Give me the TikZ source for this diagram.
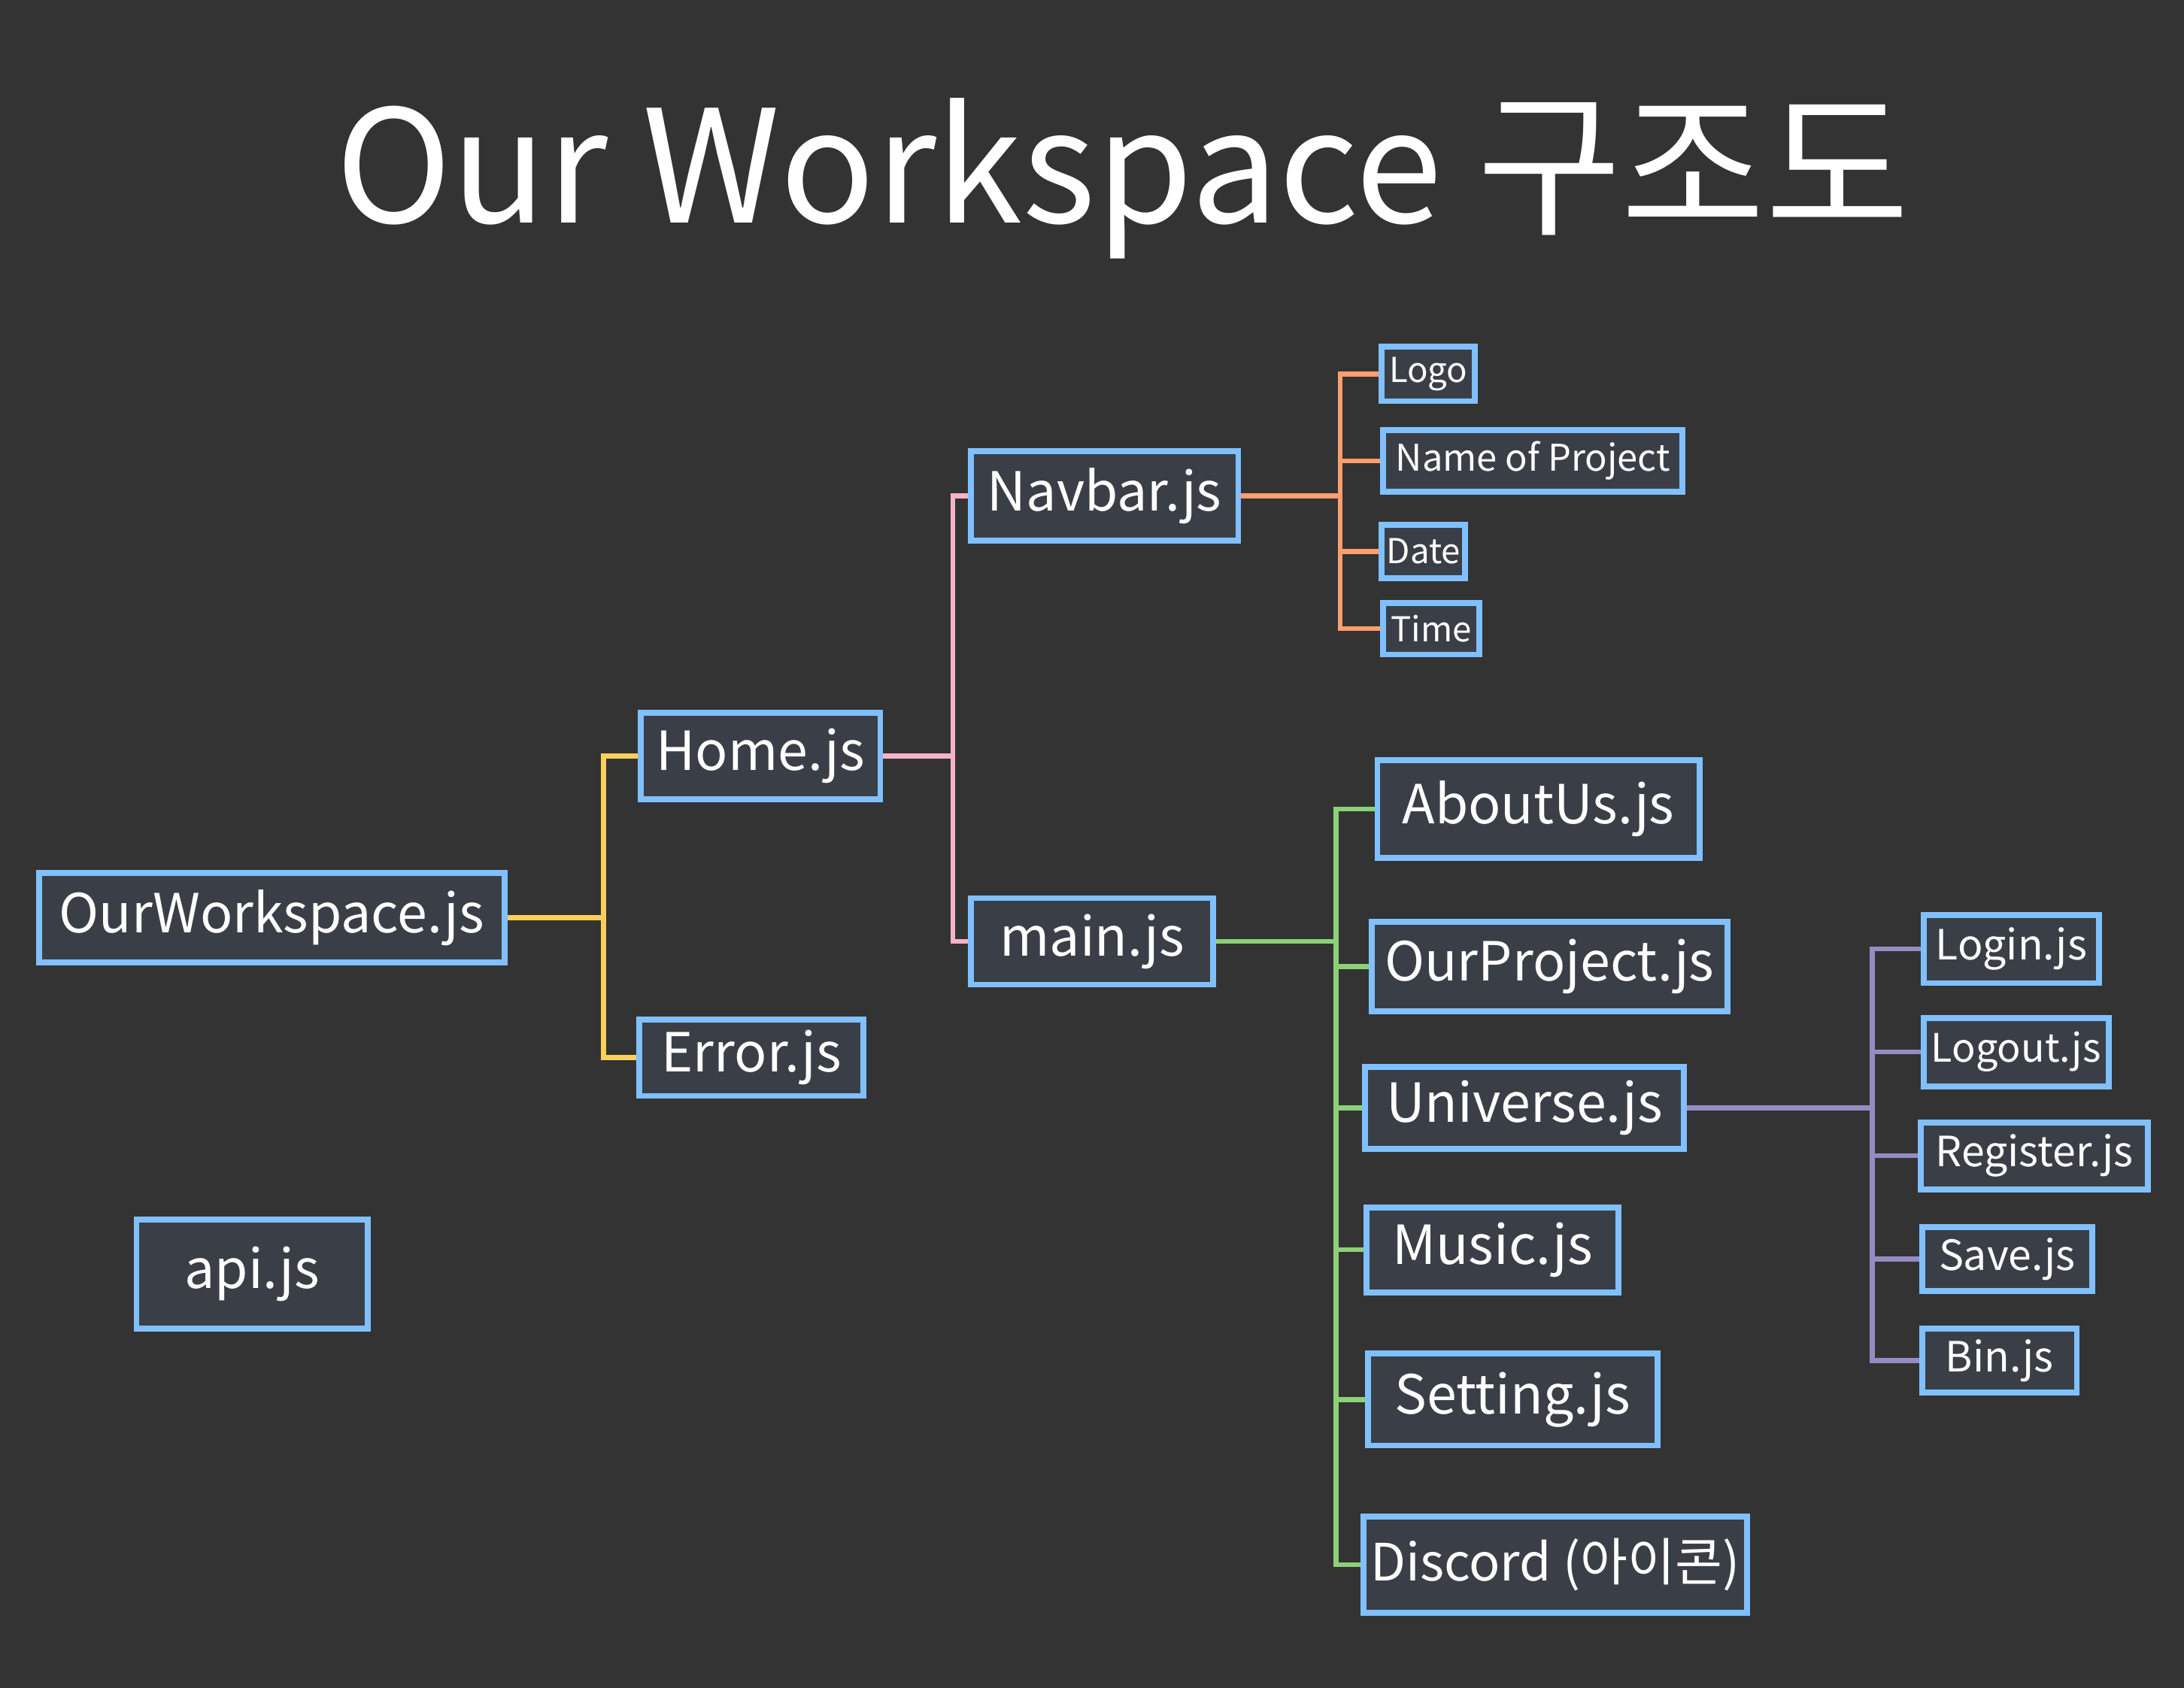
\documentclass[tikz,border=0pt]{standalone}
\usepackage{fontspec}
\setmainfont{Noto Sans CJK KR}
\usepackage{xcolor}
\usetikzlibrary{positioning, calc}
\definecolor{boardgray}{RGB}{51, 51, 51}
\definecolor{boxgray}{RGB}{58, 63, 71}
\definecolor{boxblue}{RGB}{128, 192, 255}
\definecolor{homeyellow}{RGB}{250, 208, 90}
\definecolor{navpink}{RGB}{244, 180, 200}
\definecolor{navorange}{RGB}{255, 158, 110}
\definecolor{maingreen}{RGB}{140, 208, 120}
\definecolor{unipurple}{RGB}{150, 140, 195}

\begin{document}
\begin{tikzpicture}[x=0.01cm, y=-0.01cm,
    filebox/.style={draw=boxblue, line width=1.2pt, fill=boxgray, text=white, inner sep=0pt, font=\fontsize{11}{13}\selectfont},
    midbox/.style={filebox, font=\fontsize{8.5}{10}\selectfont},
    smallbox/.style={filebox, font=\fontsize{7.5}{9}\selectfont},
    branch/.style={line width=1pt}]
    % Board
    \fill[boardgray] (0,0) rectangle (1568,1212);
    \useasboundingbox (0,0) rectangle (1568,1212);

    % Title
    \node[text=white, font=\fontsize{32}{38}\selectfont] (title) at (806,128) {Our Workspace 구조도};

    % Root and first level
    \node[filebox, minimum width=3.34cm, minimum height=0.64cm] (ows) at (195,659) {OurWorkspace.js};
    \node[filebox, minimum width=1.72cm, minimum height=0.62cm] (home) at (546,543) {Home.js};
    \node[filebox, minimum width=1.61cm, minimum height=0.55cm] (error) at (539.5,759.5) {Error.js};
    \node[filebox, minimum width=1.66cm, minimum height=0.78cm] (api) at (181,915) {api.js};

    % Home
    \node[filebox, minimum width=1.92cm, minimum height=0.64cm] (navbar) at (793,356) {Navbar.js};
    \node[filebox, minimum width=1.74cm, minimum height=0.62cm] (main) at (784,676) {main.js};

    % Navbar
    \node[smallbox, minimum width=0.67cm, minimum height=0.39cm, font=\fontsize{7}{8}\selectfont] (logo) at (1025.5,268.5) {Logo};
    \node[smallbox, minimum width=2.15cm, minimum height=0.44cm] (name) at (1100.5,331) {Name of Project};
    \node[smallbox, minimum width=0.60cm, minimum height=0.38cm, font=\fontsize{7}{8}\selectfont] (date) at (1022,396) {Date};
    \node[smallbox, minimum width=0.69cm, minimum height=0.37cm, font=\fontsize{7}{8}\selectfont] (time) at (1027.5,451.5) {Time};

    % main
    \node[filebox, minimum width=2.31cm, minimum height=0.70cm] (about) at (1104.5,581) {AboutUs.js};
    \node[filebox, minimum width=2.55cm, minimum height=0.64cm] (ourproject) at (1112.5,694) {OurProject.js};
    \node[filebox, minimum width=2.29cm, minimum height=0.59cm] (universe) at (1094.5,795.5) {Universe.js};
    \node[filebox, minimum width=1.81cm, minimum height=0.61cm] (music) at (1071.5,897.5) {Music.js};
    \node[filebox, minimum width=2.08cm, minimum height=0.66cm] (setting) at (1086,1005) {Setting.js};
    \node[filebox, minimum width=2.75cm, minimum height=0.69cm, font=\fontsize{10.5}{12}\selectfont] (discord) at (1116.5,1123.5) {Discord (아이콘)};

    % Universe
    \node[midbox, minimum width=1.26cm, minimum height=0.49cm] (login) at (1444,681.5) {Login.js};
    \node[midbox, minimum width=1.33cm, minimum height=0.49cm, font=\fontsize{8}{9}\selectfont] (logout) at (1447.5,755.5) {Logout.js};
    \node[midbox, minimum width=1.63cm, minimum height=0.48cm] (register) at (1460.5,830) {Register.js};
    \node[midbox, minimum width=1.22cm, minimum height=0.46cm] (save) at (1441,904) {Save.js};
    \node[midbox, minimum width=1.11cm, minimum height=0.46cm] (bin) at (1435.5,977) {Bin.js};

    % Branches
    \foreach \t in {home, error} {
        \draw[branch, homeyellow] (ows.east) -- ++(69,0) |- (\t.west);
    }
    \foreach \t in {navbar, main} {
        \draw[branch, navpink] (home.east) -- ++(50,0) |- (\t.west);
    }
    \foreach \t in {logo, name, date, time} {
        \draw[branch, navorange] (navbar.east) -- ++(71,0) |- (\t.west);
    }
    \foreach \t in {about, ourproject, universe, music, setting, discord} {
        \draw[branch, maingreen] (main.east) -- ++(86,0) |- (\t.west);
    }
    \foreach \t in {login, logout, register, save, bin} {
        \draw[branch, unipurple] (universe.east) -- ++(133,0) |- (\t.west);
    }
\end{tikzpicture}
\end{document}
